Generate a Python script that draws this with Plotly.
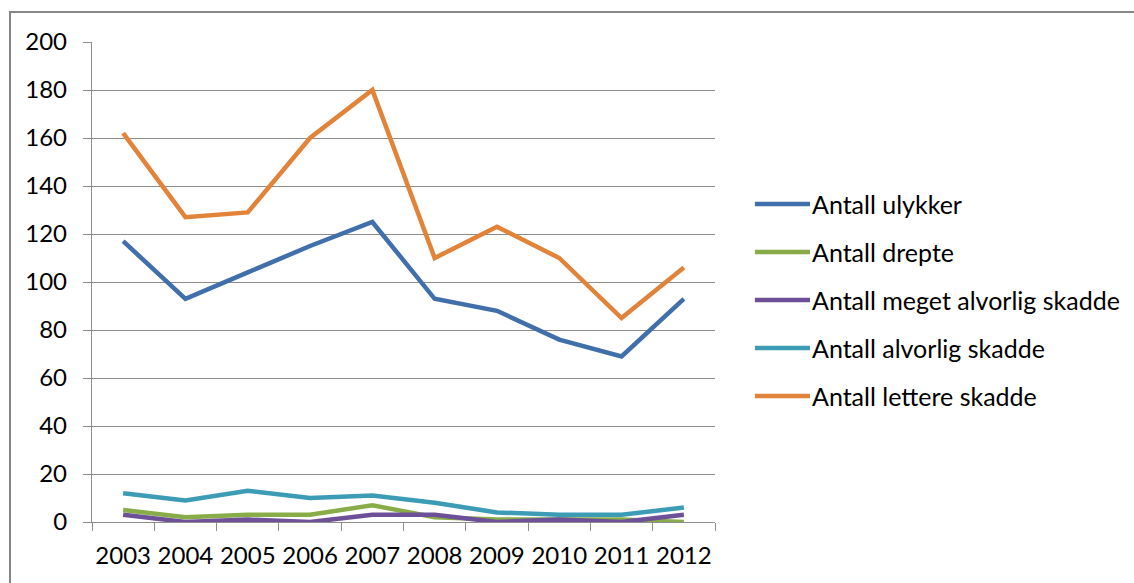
import plotly.graph_objects as go

# Annual traffic accident statistics, 2003-2012
years = ["2003", "2004", "2005", "2006", "2007", "2008", "2009", "2010", "2011", "2012"]

ulykker = [117, 93, 104, 115, 125, 93, 88, 76, 69, 93]
drepte = [5, 2, 3, 3, 7, 2, 1, 1, 1, 0]
meget_alvorlig = [3, 0, 1, 0, 3, 3, 0, 1, 0, 3]
alvorlig = [12, 9, 13, 10, 11, 8, 4, 3, 3, 6]
lettere = [162, 127, 129, 160, 180, 110, 123, 110, 85, 106]

series_names = [
    "Antall ulykker",
    "Antall drepte",
    "Antall meget alvorlig skadde",
    "Antall alvorlig skadde",
    "Antall lettere skadde",
]
series_values = [ulykker, drepte, meget_alvorlig, alvorlig, lettere]
series_colors = ["#416FAB", "#88AD48", "#6D5097", "#3D9CB5", "#E2833A"]

FONT = "Lato"
GRID = "#8c8c8c"
LINE_W = 4.5

fig = go.Figure()
for name, vals, col in zip(series_names, series_values, series_colors):
    fig.add_trace(go.Scatter(
        x=years, y=vals, name=name, mode="lines",
        line=dict(color=col, width=LINE_W),
        showlegend=False,
    ))

# Legend drawn as line samples plus labels to the right of the plot area
shapes = []
annotations = []
legend_top = 0.6625
legend_step = 0.10
for i, (name, col) in enumerate(zip(series_names, series_colors)):
    yy = legend_top - i * legend_step
    shapes.append(dict(type="line", xref="paper", yref="paper",
                       x0=1.064, x1=1.1525, y0=yy, y1=yy,
                       line=dict(color=col, width=LINE_W)))
    annotations.append(dict(xref="paper", yref="paper", x=1.153, y=yy,
                            text=name, showarrow=False, xanchor="left",
                            yanchor="middle",
                            font=dict(family=FONT, size=25, color="#000000")))

# Outer chart frame
shapes.append(dict(type="rect", xref="paper", yref="paper",
                   x0=-0.1316, x1=1.75, y0=-0.2, y1=1.0625,
                   line=dict(color="#868686", width=2), layer="below"))

fig.update_layout(
    width=1134, height=583,
    margin=dict(l=92, r=419, t=42, b=61),
    paper_bgcolor="white", plot_bgcolor="white",
    font=dict(family=FONT, size=24, color="#000000"),
    shapes=shapes, annotations=annotations,
    xaxis=dict(
        type="category", range=[-0.5, 9.5], showgrid=False, showline=True,
        linecolor=GRID, linewidth=1.3,
        ticks="outside", tickson="boundaries", ticklen=8,
        tickcolor=GRID, tickwidth=1.3, ticklabelstandoff=12,
        tickangle=0, automargin=False,
        tickfont=dict(family=FONT, size=24),
        fixedrange=True,
    ),
    yaxis=dict(
        range=[0, 200], dtick=20, showgrid=True, gridcolor=GRID, gridwidth=1.3,
        showline=True, linecolor=GRID, linewidth=1.3,
        ticks="outside", ticklen=8, tickcolor=GRID, tickwidth=1.3,
        ticklabelstandoff=11, zeroline=False, automargin=False,
        tickfont=dict(family=FONT, size=24),
        fixedrange=True,
    ),
)

fig.write_html("out.html")
